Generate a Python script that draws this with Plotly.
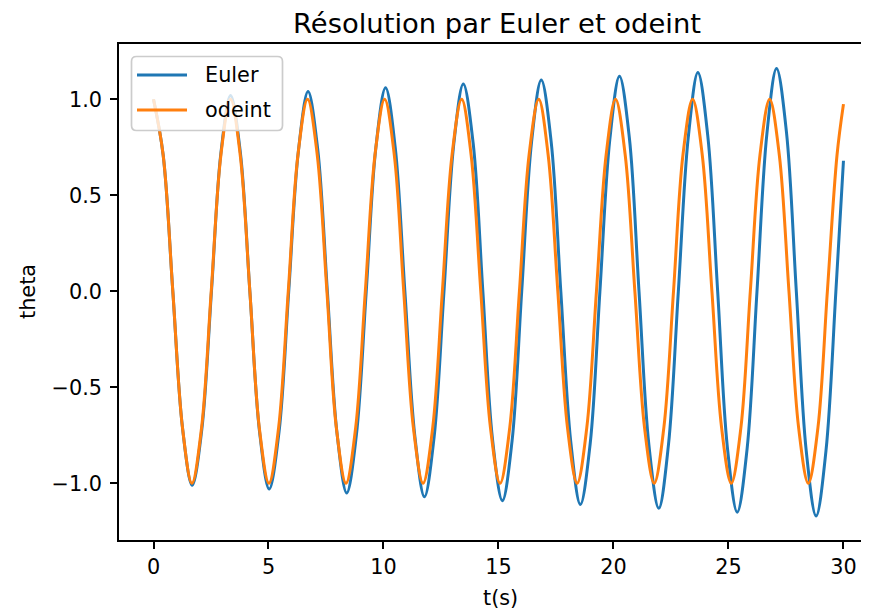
import plotly.graph_objects as go

# ---- data ----
EULER_T = [0.0, 0.42, 0.84, 1.26, 1.68,
           2.10, 2.52, 2.93, 3.35,
           3.77, 4.19, 4.61, 5.03,
           5.46, 5.88, 6.30, 6.72,
           7.14, 7.56, 7.98, 8.40,
           8.82, 9.25, 9.67, 10.09,
           10.51, 10.93, 11.36, 11.78,
           12.20, 12.63, 13.05, 13.47,
           13.90, 14.32, 14.74, 15.17,
           15.59, 16.01, 16.44, 16.86,
           17.29, 17.71, 18.14, 18.56,
           18.99, 19.41, 19.84, 20.26,
           20.69, 21.11, 21.54, 21.97,
           22.39, 22.82, 23.25, 23.67,
           24.10, 24.53, 24.95, 25.38,
           25.81, 26.24, 26.67, 27.09,
           27.52, 27.95, 28.38, 28.81,
           29.24, 29.67, 30.0]
EULER_THETA = [1.0, 0.71, 0.0, -0.71, -1.01,
               -0.72, 0.0, 0.72, 1.02,
               0.73, 0.0, -0.73, -1.03,
               -0.73, 0.0, 0.73, 1.04,
               0.74, 0.0, -0.74, -1.05,
               -0.75, 0.0, 0.75, 1.06,
               0.75, 0.0, -0.75, -1.07,
               -0.76, 0.0, 0.76, 1.08,
               0.77, 0.0, -0.77, -1.09,
               -0.78, 0.0, 0.78, 1.10,
               0.78, 0.0, -0.78, -1.11,
               -0.79, 0.0, 0.79, 1.12,
               0.80, 0.0, -0.80, -1.13,
               -0.80, 0.0, 0.80, 1.14,
               0.81, 0.0, -0.81, -1.15,
               -0.82, 0.0, 0.82, 1.16,
               0.83, 0.0, -0.83, -1.17,
               -0.83, 0.0, 0.68]

ODEINT_T = [0.0, 0.42, 0.84, 1.26, 1.67, 2.09, 2.51, 2.93,
            3.35, 3.77, 4.19, 4.60, 5.02, 5.44, 5.86, 6.28,
            6.70, 7.12, 7.54, 7.95, 8.37, 8.79, 9.21, 9.63,
            10.05, 10.47, 10.88, 11.30, 11.72, 12.14, 12.56, 12.98,
            13.40, 13.81, 14.23, 14.65, 15.07, 15.49, 15.91, 16.33,
            16.75, 17.16, 17.58, 18.00, 18.42, 18.84, 19.26, 19.68,
            20.09, 20.51, 20.93, 21.35, 21.77, 22.19, 22.61, 23.02,
            23.44, 23.86, 24.28, 24.70, 25.12, 25.54, 25.95, 26.37,
            26.79, 27.21, 27.63, 28.05, 28.47, 28.89, 29.30, 29.72,
            30.0]
ODEINT_THETA = [1.0, 0.71, 0.0, -0.71, -1.0, -0.71, 0.0, 0.71,
                1.0, 0.71, 0.0, -0.71, -1.0, -0.71, 0.0, 0.71,
                1.0, 0.71, 0.0, -0.71, -1.0, -0.71, 0.0, 0.71,
                1.0, 0.71, 0.0, -0.71, -1.0, -0.71, 0.0, 0.71,
                1.0, 0.71, 0.0, -0.71, -1.0, -0.71, 0.0, 0.71,
                1.0, 0.71, 0.0, -0.71, -1.0, -0.71, 0.0, 0.71,
                1.0, 0.71, 0.0, -0.71, -1.0, -0.71, 0.0, 0.71,
                1.0, 0.71, 0.0, -0.71, -1.0, -0.71, 0.0, 0.71,
                1.0, 0.71, 0.0, -0.71, -1.0, -0.71, 0.0, 0.71,
                0.975]

SERIES_NAMES = ["Euler", "odeint"]
X_TICKS = [0, 5, 10, 15, 20, 25, 30]
Y_TICKS = [-1.0, -0.5, 0.0, 0.5, 1.0]
TITLE = "Résolution par Euler et odeint"
X_LABEL = "t(s)"
Y_LABEL = "theta"

# ---- style ----
OFF = 8                      # the page places the figure 8px from the top-left corner
PAGE_W, PAGE_H = 869, 615
W, H = PAGE_W - OFF, PAGE_H - OFF
PLOT_L, PLOT_T, PLOT_B = 119, 44, 540   # plot area edges in page pixels
ML, MR, MT, MB = PLOT_L - OFF, 0, PLOT_T - OFF, PAGE_H - PLOT_B
PW, PH = W - ML - MR, H - MT - MB
FONT = "DejaVu Sans"
FS = 20.8
BLUE = "#1f77b4"
ORANGE = "#ff7f0e"
LW = 3.0


def px(x):
    """page x pixel -> paper coordinate"""
    return (x - OFF - ML) / PW


def py(y):
    """page y pixel -> paper coordinate"""
    return (PAGE_H - MB - y) / PH


fig = go.Figure()
fig.add_trace(go.Scatter(x=EULER_T, y=EULER_THETA, mode="lines", name=SERIES_NAMES[0],
                         line=dict(color=BLUE, width=LW, shape="spline", smoothing=1.0),
                         showlegend=False))
fig.add_trace(go.Scatter(x=ODEINT_T, y=ODEINT_THETA, mode="lines", name=SERIES_NAMES[1],
                         line=dict(color=ORANGE, width=LW, shape="spline", smoothing=1.0),
                         showlegend=False))

axis_common = dict(showgrid=False, zeroline=False, showline=True, linecolor="black",
                   linewidth=1.7, ticks="outside", ticklen=7, tickwidth=1.7,
                   tickcolor="black", tickfont=dict(family=FONT, size=FS, color="black"))

fig.update_xaxes(range=[-1.5, 31.11], tickvals=X_TICKS, mirror=True, **axis_common)
fig.update_yaxes(range=[-1.295, 1.288], tickvals=Y_TICKS, tickformat=".1f",
                 mirror=False, ticklabelstandoff=4, **axis_common)

# legend (drawn manually to match the reference box)
x0, x1, y0, y1, r = 131.5, 282.5, 56.5, 130.5, 5
pts = [("M", x0 + r, y0), ("L", x1 - r, y0), ("Q", x1, y0, x1, y0 + r),
       ("L", x1, y1 - r), ("Q", x1, y1, x1 - r, y1), ("L", x0 + r, y1),
       ("Q", x0, y1, x0, y1 - r), ("L", x0, y0 + r), ("Q", x0, y0, x0 + r, y0)]
path = ""
for p in pts:
    cmd = p[0]
    coords = p[1:]
    s = []
    for i in range(0, len(coords), 2):
        s.append(f"{px(coords[i]):.5f},{py(coords[i + 1]):.5f}")
    path += cmd + " ".join(s) + " "
path += "Z"

shapes = [dict(type="path", path=path, xref="paper", yref="paper",
               fillcolor="rgba(255,255,255,0.8)", line=dict(color="#cccccc", width=1.7),
               layer="above")]
legend_rows = [(SERIES_NAMES[0], BLUE, 75), (SERIES_NAMES[1], ORANGE, 110)]
annotations = []
for name, col, yy in legend_rows:
    shapes.append(dict(type="line", xref="paper", yref="paper", x0=px(137), x1=px(187),
                       y0=py(yy), y1=py(yy), line=dict(color=col, width=LW), layer="above"))
    annotations.append(dict(text=name, xref="paper", yref="paper", x=px(203), y=py(yy),
                            xanchor="left", yanchor="middle", showarrow=False,
                            font=dict(family=FONT, size=FS, color="black")))

annotations.append(dict(text=TITLE, xref="paper", yref="paper", x=px(496.5), y=py(23),
                        xanchor="center", yanchor="middle", showarrow=False,
                        font=dict(family=FONT, size=27.4, color="black")))
annotations.append(dict(text=X_LABEL, xref="paper", yref="paper", x=px(500), y=py(598),
                        xanchor="center", yanchor="middle", showarrow=False,
                        font=dict(family=FONT, size=FS, color="black")))
annotations.append(dict(text=Y_LABEL, xref="paper", yref="paper", x=px(28), y=py(292),
                        xanchor="center", yanchor="middle", showarrow=False, textangle=-90,
                        font=dict(family=FONT, size=FS, color="black")))

fig.update_layout(width=W, height=H, margin=dict(l=ML, r=MR, t=MT, b=MB),
                  paper_bgcolor="white", plot_bgcolor="white",
                  shapes=shapes, annotations=annotations, showlegend=False,
                  font=dict(family=FONT, size=FS, color="black"))

fig.write_html("out.html")
